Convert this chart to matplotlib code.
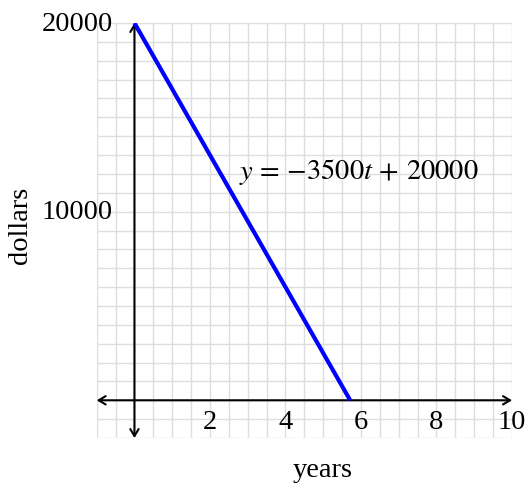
import numpy as np
import matplotlib.pyplot as plt

plt.rcParams['font.family'] = ['Liberation Serif', 'DejaVu Serif']
plt.rcParams['mathtext.fontset'] = 'stix'

# depreciation model: value = slope * t + start
slope = -3500
start = 20000
x_ticks = [2, 4, 6, 8, 10]
y_ticks = [10000, 20000]
x_range = (-1, 10)
y_range = (-2000, 20000)

fs = 20.5

fig = plt.figure(figsize=(5.27, 4.85), dpi=100)
ax = fig.add_axes([0.1835, 0.0948, 0.788, 0.8557])
ax.set_xlim(*x_range)
ax.set_ylim(*y_range)

# light graph-paper grid
for gx in np.arange(x_range[0], x_range[1] + 0.01, 0.5):
    ax.axvline(gx, color='#dedede', lw=1.0, zorder=0)
for gy in np.arange(y_range[0], y_range[1] + 1, 1000):
    ax.axhline(gy, color='#dedede', lw=1.0, zorder=0)

for s in ax.spines.values():
    s.set_visible(False)
ax.set_xticks([])
ax.set_yticks([])

# axes with open arrowheads
arrow = dict(arrowstyle='<->,head_length=0.5,head_width=0.3', color='black', lw=1.5,
             shrinkA=0, shrinkB=0)
ax.annotate('', xy=(x_range[0], 0), xytext=(x_range[1], 0), arrowprops=arrow, zorder=2)
ax.annotate('', xy=(0, y_range[0]), xytext=(0, y_range[1]), arrowprops=arrow, zorder=2)

# the line, from t=0 down to where it crosses zero
t = np.array([0, -start / slope])
ax.plot(t, slope * t + start, color='#0000ff', lw=3, solid_capstyle='butt', zorder=3)

ax.text(2.78, 12150, r'$y\,=\,{-}3500t\,+\,20000$', fontsize=fs, va='center', ha='left')

for xt in x_ticks:
    ax.text(xt, -1150, str(xt), fontsize=fs, ha='center', va='center')
for yt in y_ticks:
    ax.text(-0.57, yt, str(yt), fontsize=fs, ha='right', va='center', clip_on=False)

fig.text(323 / 527, 1 - 471 / 485, 'years', fontsize=fs, ha='center', va='center')
fig.text(20 / 527, 1 - 225 / 485, 'dollars', fontsize=fs, ha='center', va='center',
         rotation=90)

fig.savefig('out.png', dpi=100)
